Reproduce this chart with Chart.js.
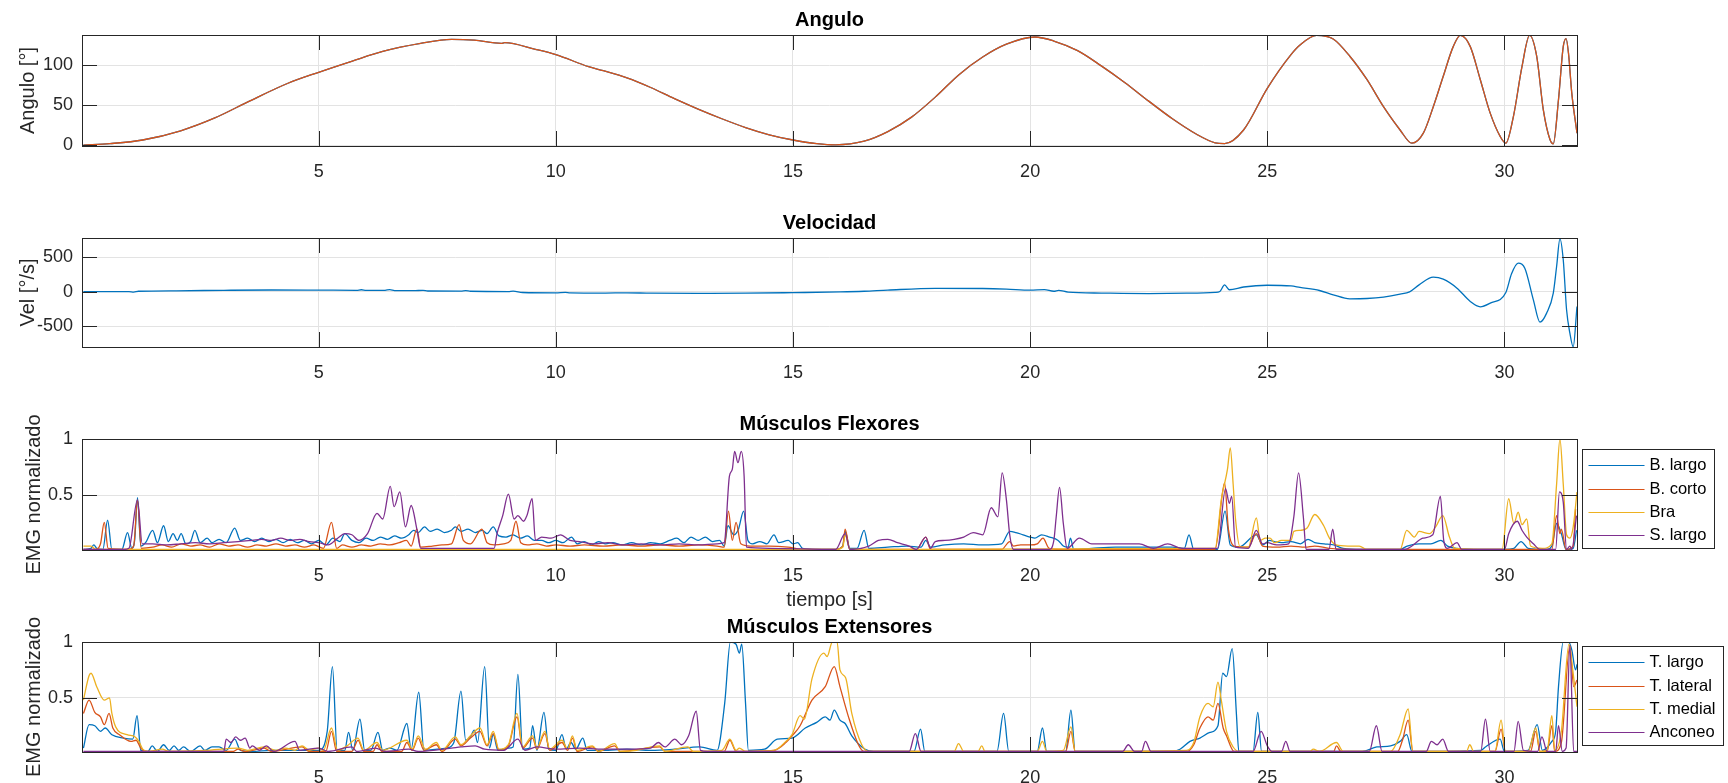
<!DOCTYPE html>
<html>
<head>
<meta charset="utf-8">
<script src="https://cdn.jsdelivr.net/npm/chart.js@4.4.1/dist/chart.umd.min.js"></script>
<style>
body{margin:0;background:#fff;width:1728px;height:783px;overflow:hidden;position:relative}
canvas{position:absolute;left:0}
</style>
</head>
<body>
<canvas id="angChart" width="1728" height="195" style="top:0px"></canvas>
<canvas id="velChart" width="1728" height="200" style="top:195px"></canvas>
<canvas id="flexChart" width="1728" height="217" style="top:395px"></canvas>
<canvas id="extChart" width="1728" height="171" style="top:612px"></canvas>
<script>
// tick positions
const timeTicks = [5, 10, 15, 20, 25, 30]
const angleTicks = [0, 50, 100]
const velTicks = [-500, 0, 500]
const emgTicks = [0.5, 1]

const flexLabels = ["B. largo", "B. corto", "Bra", "S. largo"]
const extLabels = ["T. largo", "T. lateral", "T. medial", "Anconeo"]

// [tiempo, valor]
const angleData = [[0.04,0],[0.6,2],[1.29,6.5],[2.09,18],[2.81,34],[3.54,55],[4.34,77],[5.0,91],[5.71,105],[6.35,117],[7.15,127],[7.8,132],[8.28,131],[8.85,127],[8.92,128],[9.57,119.6],[10.0,113],[10.69,98],[11.0,93],[11.5,84],[12.0,72],[12.5,58],[13.0,45],[13.5,33],[14.0,22],[14.5,13],[15.0,6.5],[15.5,2],[15.9,0.5],[16.5,5],[17.0,17],[17.5,35],[18.0,60],[18.5,88],[19.0,110],[19.5,126],[20.1,135],[20.5,130],[21.0,118],[21.5,99],[22.0,78],[22.5,55],[23.0,33],[23.5,14],[23.9,3],[24.1,2],[24.5,19],[25.0,71],[25.5,113],[25.69,125],[26.04,137],[26.39,132.5],[26.74,111],[27.1,82],[27.45,48],[27.8,19],[28.05,2.5],[28.29,15],[28.5,48],[28.71,86],[28.92,123],[29.07,137],[29.28,123],[29.49,82],[29.7,40],[29.91,11],[30.03,2.5],[30.19,36],[30.37,98],[30.53,137],[30.68,111],[30.82,44],[30.96,7],[31.03,1.7],[31.14,57],[31.24,123],[31.3,133],[31.35,115],[31.42,65],[31.53,15]]

const velData = [[0.04,2],[0.5,3],[1.0,3],[1.1,-5],[1.2,8],[2.0,15],[3.0,22],[4.0,26],[5.0,24],[5.8,22],[5.9,30],[6.0,20],[6.4,22],[6.5,32],[6.6,18],[7.0,16],[7.2,22],[7.3,12],[8.0,10],[8.1,18],[8.2,8],[9.0,4],[9.1,10],[9.3,-10],[10.0,-15],[10.2,-8],[10.3,-15],[11.0,-18],[11.5,-14],[12.0,-20],[13.0,-22],[14.0,-20],[15.0,-12],[16.0,-2],[16.5,8],[17.0,25],[18.0,50],[19.0,48],[19.5,40],[20.0,25],[20.3,32],[20.5,8],[20.6,22],[20.8,-5],[21.5,-18],[22.5,-25],[23.3,-20],[23.9,-8],[24.0,5],[24.1,100],[24.2,30],[24.5,70],[25.0,95],[25.5,85],[25.69,63],[26.1,19],[26.39,-43],[26.74,-101],[27.1,-97],[27.45,-77],[27.8,-34],[28.0,0],[28.2,101],[28.5,212],[28.71,183],[29.0,53],[29.28,-140],[29.49,-217],[29.7,-164],[30.03,-10],[30.15,261],[30.29,415],[30.43,343],[30.61,-116],[30.75,-440],[30.89,-309],[31.03,-19],[31.1,367],[31.17,768],[31.24,464],[31.31,-261],[31.38,-599],[31.45,-797],[31.53,-213]]

// flexores
const bLargo = [[0.04,0.02],[0.2,0.03],[0.26,0.06],[0.32,0.03],[0.45,0.02],[0.55,0.28],[0.64,0.02],[0.85,0.02],[0.97,0.17],[1.06,0.03],[1.12,0.1],[1.18,0.48],[1.25,0.05],[1.35,0.08],[1.5,0.19],[1.6,0.08],[1.73,0.23],[1.83,0.09],[1.93,0.16],[2.02,0.1],[2.1,0.16],[2.2,0.07],[2.3,0.09],[2.39,0.19],[2.5,0.08],[2.65,0.12],[2.75,0.08],[2.9,0.11],[3.05,0.08],[3.23,0.21],[3.35,0.1],[3.5,0.12],[3.65,0.09],[3.8,0.12],[3.95,0.09],[4.1,0.11],[4.25,0.08],[4.4,0.11],[4.55,0.08],[4.7,0.1],[4.85,0.07],[5.0,0.1],[5.15,0.06],[5.3,0.12],[5.45,0.09],[5.55,0.16],[5.7,0.1],[5.85,0.08],[6.0,0.12],[6.15,0.1],[6.3,0.13],[6.45,0.11],[6.6,0.14],[6.75,0.12],[6.9,0.15],[7.0,0.19],[7.1,0.17],[7.23,0.22],[7.35,0.18],[7.5,0.2],[7.65,0.17],[7.8,0.19],[7.88,0.22],[8.0,0.18],[8.15,0.2],[8.3,0.17],[8.45,0.19],[8.55,0.16],[8.68,0.22],[8.8,0.14],[8.95,0.13],[9.1,0.15],[9.25,0.12],[9.4,0.14],[9.55,0.1],[9.7,0.1],[9.85,0.08],[10.0,0.1],[10.15,0.08],[10.33,0.13],[10.45,0.07],[10.6,0.09],[10.75,0.06],[10.9,0.09],[11.05,0.07],[11.2,0.08],[11.4,0.06],[11.6,0.08],[11.8,0.06],[12.0,0.08],[12.2,0.07],[12.4,0.1],[12.55,0.12],[12.7,0.08],[12.85,0.13],[13.0,0.1],[13.15,0.13],[13.3,0.09],[13.45,0.1],[13.55,0.05],[13.63,0.23],[13.75,0.15],[13.85,0.2],[13.96,0.36],[14.05,0.1],[14.15,0.07],[14.3,0.09],[14.45,0.07],[14.6,0.15],[14.7,0.08],[14.9,0.1],[15.0,0.07],[15.1,0.08],[15.2,0.03],[15.5,0.02],[15.9,0.02],[16.05,0.05],[16.1,0.18],[16.2,0.03],[16.35,0.03],[16.5,0.19],[16.6,0.03],[17.0,0.04],[17.4,0.05],[17.7,0.04],[17.8,0.1],[17.9,0.04],[18.2,0.06],[18.6,0.07],[19.0,0.06],[19.4,0.07],[19.57,0.18],[19.7,0.17],[19.85,0.15],[20.0,0.13],[20.1,0.12],[20.24,0.15],[20.41,0.13],[20.59,0.1],[20.7,0.05],[20.8,0.04],[20.85,0.12],[20.92,0.02],[21.3,0.03],[21.8,0.04],[22.5,0.04],[23.0,0.04],[23.25,0.03],[23.35,0.15],[23.45,0.02],[23.95,0.02],[24.11,0.36],[24.22,0.06],[24.4,0.04],[24.77,0.15],[24.9,0.06],[25.05,0.1],[25.15,0.09],[25.3,0.08],[25.5,0.09],[25.7,0.07],[25.86,0.11],[26.0,0.08],[26.2,0.07],[26.4,0.06],[26.6,0.03],[27.0,0.02],[27.8,0.02],[27.95,0.05],[28.2,0.07],[28.45,0.07],[28.66,0.1],[28.8,0.05],[29.0,0.03],[29.5,0.02],[30.0,0.02],[30.2,0.03],[30.35,0.09],[30.5,0.03],[30.9,0.02],[31.0,0.05],[31.1,0.25],[31.2,0.16],[31.3,0.02],[31.45,0.03],[31.52,0.19]]
const bCorto = [[0.04,0.02],[0.3,0.02],[0.4,0.07],[0.48,0.26],[0.56,0.03],[1.0,0.02],[1.1,0.05],[1.18,0.46],[1.26,0.03],[1.5,0.04],[1.7,0.06],[1.9,0.04],[2.1,0.07],[2.3,0.05],[2.5,0.06],[2.7,0.04],[2.9,0.07],[3.1,0.05],[3.3,0.06],[3.5,0.04],[3.7,0.06],[3.9,0.05],[4.1,0.07],[4.3,0.05],[4.5,0.06],[4.7,0.04],[4.9,0.06],[5.1,0.03],[5.27,0.26],[5.38,0.03],[5.5,0.06],[5.7,0.04],[5.9,0.06],[6.1,0.05],[6.3,0.07],[6.5,0.06],[6.7,0.08],[6.85,0.1],[6.95,0.05],[7.07,0.2],[7.15,0.04],[7.4,0.05],[7.6,0.06],[7.8,0.07],[7.96,0.24],[8.05,0.1],[8.2,0.07],[8.44,0.2],[8.55,0.08],[8.7,0.06],[8.9,0.07],[9.05,0.1],[9.16,0.27],[9.26,0.08],[9.4,0.06],[9.6,0.07],[9.8,0.05],[10.0,0.06],[10.3,0.05],[10.6,0.06],[11.0,0.05],[11.4,0.06],[11.8,0.05],[12.2,0.06],[12.6,0.05],[13.0,0.06],[13.4,0.05],[13.55,0.04],[13.64,0.36],[13.72,0.1],[13.8,0.26],[13.9,0.07],[14.1,0.05],[14.5,0.05],[14.9,0.04],[15.2,0.02],[15.9,0.02],[16.05,0.05],[16.1,0.2],[16.2,0.02],[17.6,0.02],[17.8,0.13],[17.9,0.02],[19.4,0.02],[19.57,0.09],[19.65,0.05],[19.8,0.06],[20.0,0.06],[20.15,0.07],[20.27,0.12],[20.4,0.03],[20.6,0.02],[23.9,0.02],[24.1,0.61],[24.18,0.2],[24.3,0.05],[24.6,0.04],[24.77,0.16],[24.9,0.05],[25.2,0.04],[25.5,0.05],[25.8,0.04],[26.0,0.05],[26.3,0.03],[27.0,0.02],[28.8,0.02],[29.5,0.02],[31.0,0.02],[31.1,0.32],[31.17,0.16],[31.2,0.2],[31.3,0.02],[31.45,0.05],[31.5,0.38]]
const bra = [[0.04,0.05],[0.2,0.05],[0.3,0.02],[15.9,0.02],[16.05,0.04],[16.1,0.15],[16.2,0.02],[23.9,0.03],[24.03,0.46],[24.16,0.73],[24.22,0.92],[24.28,0.6],[24.33,0.29],[24.43,0.04],[24.6,0.04],[24.77,0.3],[24.85,0.1],[24.96,0.12],[25.06,0.12],[25.15,0.08],[25.3,0.1],[25.5,0.1],[25.56,0.18],[25.7,0.19],[25.84,0.21],[26.0,0.33],[26.19,0.23],[26.31,0.12],[26.45,0.06],[26.7,0.05],[26.94,0.05],[27.1,0.02],[27.8,0.02],[27.94,0.19],[28.1,0.13],[28.2,0.18],[28.42,0.16],[28.55,0.22],[28.7,0.32],[28.84,0.13],[28.95,0.03],[29.95,0.02],[30.09,0.47],[30.2,0.25],[30.29,0.35],[30.37,0.24],[30.47,0.29],[30.55,0.05],[30.8,0.03],[31.0,0.07],[31.1,0.6],[31.17,1.0],[31.24,0.6],[31.31,0.15],[31.38,0.12],[31.45,0.22],[31.53,0.53]]
const sLargo = [[0.04,0.02],[0.9,0.02],[1.0,0.03],[1.18,0.46],[1.28,0.07],[1.5,0.07],[1.8,0.06],[2.1,0.07],[2.4,0.08],[2.7,0.07],[3.0,0.08],[3.3,0.09],[3.6,0.1],[3.8,0.11],[4.0,0.1],[4.2,0.12],[4.4,0.1],[4.6,0.11],[4.8,0.09],[5.0,0.08],[5.2,0.06],[5.4,0.12],[5.55,0.16],[5.7,0.15],[5.85,0.1],[6.03,0.16],[6.23,0.34],[6.35,0.29],[6.51,0.58],[6.59,0.4],[6.71,0.53],[6.83,0.22],[6.95,0.41],[7.07,0.2],[7.15,0.03],[8.7,0.03],[8.76,0.16],[8.88,0.32],[9.0,0.51],[9.12,0.29],[9.2,0.32],[9.32,0.27],[9.39,0.32],[9.5,0.47],[9.57,0.1],[9.7,0.13],[9.9,0.12],[10.1,0.15],[10.3,0.1],[10.5,0.09],[10.8,0.07],[11.1,0.08],[11.4,0.06],[11.8,0.07],[12.2,0.06],[12.6,0.07],[13.0,0.06],[13.4,0.07],[13.55,0.08],[13.66,0.67],[13.72,0.73],[13.77,0.89],[13.84,0.79],[13.91,0.89],[13.97,0.67],[14.02,0.04],[14.5,0.03],[15.9,0.02],[16.1,0.16],[16.2,0.02],[16.6,0.05],[16.8,0.1],[17.0,0.11],[17.2,0.08],[17.45,0.05],[17.6,0.02],[17.8,0.13],[17.9,0.03],[18.0,0.09],[18.2,0.1],[18.4,0.11],[18.6,0.13],[18.8,0.17],[19.0,0.15],[19.18,0.39],[19.32,0.31],[19.41,0.7],[19.5,0.46],[19.57,0.15],[19.65,0.02],[20.4,0.02],[20.5,0.1],[20.55,0.31],[20.62,0.57],[20.7,0.25],[20.78,0.03],[21.04,0.12],[21.3,0.07],[21.8,0.07],[22.3,0.07],[22.6,0.03],[22.9,0.07],[23.2,0.03],[23.95,0.03],[24.12,0.56],[24.2,0.43],[24.25,0.49],[24.33,0.04],[24.6,0.03],[24.77,0.19],[24.9,0.07],[25.0,0.08],[25.2,0.06],[25.45,0.07],[25.56,0.31],[25.66,0.7],[25.76,0.31],[25.82,0.02],[26.3,0.02],[26.38,0.2],[26.45,0.02],[27.9,0.02],[28.05,0.05],[28.28,0.12],[28.49,0.15],[28.65,0.49],[28.72,0.1],[28.8,0.03],[29.0,0.08],[29.1,0.02],[30.0,0.02],[30.09,0.16],[30.27,0.27],[30.37,0.19],[30.47,0.13],[30.61,0.07],[30.75,0.02],[31.08,0.02],[31.16,0.53],[31.24,0.44],[31.31,0.02],[31.38,0.05],[31.42,0.02],[31.52,0.32]]

// extensores
const tLargo = [[0.04,0.05],[0.16,0.26],[0.28,0.25],[0.4,0.2],[0.5,0.23],[0.64,0.17],[0.88,0.14],[1.08,0.13],[1.17,0.34],[1.25,0.03],[1.4,0.02],[1.49,0.07],[1.6,0.02],[1.73,0.08],[1.85,0.03],[1.95,0.07],[2.05,0.03],[2.15,0.06],[2.3,0.02],[2.5,0.07],[2.6,0.03],[2.75,0.06],[2.9,0.06],[3.05,0.03],[3.23,0.13],[3.35,0.03],[3.6,0.02],[4.0,0.03],[4.5,0.03],[5.0,0.03],[5.18,0.2],[5.29,0.78],[5.39,0.03],[5.55,0.03],[5.63,0.19],[5.72,0.03],[5.87,0.31],[5.97,0.03],[6.1,0.03],[6.25,0.19],[6.35,0.03],[6.5,0.05],[6.65,0.03],[6.86,0.27],[6.95,0.04],[7.11,0.55],[7.22,0.03],[7.5,0.04],[7.7,0.05],[7.85,0.1],[8.0,0.56],[8.1,0.12],[8.2,0.15],[8.28,0.21],[8.35,0.1],[8.5,0.78],[8.6,0.05],[8.68,0.17],[8.78,0.03],[9.0,0.05],[9.1,0.06],[9.2,0.71],[9.3,0.04],[9.45,0.05],[9.51,0.25],[9.6,0.03],[9.75,0.37],[9.85,0.04],[10.0,0.03],[10.13,0.17],[10.22,0.04],[10.32,0.1],[10.42,0.04],[10.57,0.14],[10.66,0.03],[11.0,0.03],[11.5,0.04],[12.0,0.03],[12.5,0.04],[13.03,0.06],[13.4,0.03],[13.56,0.45],[13.68,1.0],[13.8,0.98],[13.87,0.9],[13.92,0.98],[14.0,0.45],[14.06,0.03],[14.4,0.04],[14.67,0.13],[14.98,0.14],[15.26,0.23],[15.5,0.28],[15.68,0.33],[15.78,0.3],[15.87,0.39],[15.99,0.3],[16.1,0.27],[16.24,0.16],[16.52,0.04],[16.7,0.02],[17.55,0.02],[17.69,0.22],[17.78,0.02],[19.3,0.02],[19.44,0.36],[19.55,0.02],[20.15,0.02],[20.26,0.23],[20.35,0.02],[20.75,0.02],[20.86,0.39],[20.95,0.02],[23.0,0.02],[23.16,0.04],[23.37,0.11],[23.58,0.14],[23.79,0.19],[23.96,0.25],[24.06,0.72],[24.14,0.69],[24.26,0.94],[24.35,0.35],[24.4,0.02],[24.7,0.02],[24.8,0.37],[24.88,0.02],[27.0,0.02],[27.31,0.06],[27.6,0.07],[27.8,0.11],[27.94,0.17],[28.05,0.02],[29.5,0.03],[29.6,0.06],[29.91,0.13],[30.0,0.02],[30.5,0.03],[30.69,0.26],[30.8,0.03],[31.0,0.11],[31.08,0.2],[31.14,0.6],[31.24,1.0],[31.35,1.0],[31.42,0.93],[31.5,0.75],[31.53,0.8]]
const tLateral = [[0.04,0.36],[0.16,0.48],[0.28,0.37],[0.4,0.33],[0.48,0.26],[0.58,0.36],[0.66,0.23],[0.8,0.17],[1.04,0.11],[1.15,0.12],[1.25,0.05],[1.35,0.02],[3.2,0.02],[3.3,0.04],[3.45,0.02],[3.85,0.05],[4.0,0.02],[4.65,0.06],[4.8,0.02],[5.15,0.02],[5.27,0.2],[5.38,0.02],[5.7,0.02],[5.83,0.12],[5.95,0.02],[6.15,0.02],[6.23,0.08],[6.33,0.02],[6.75,0.02],[6.86,0.1],[6.97,0.03],[7.1,0.14],[7.22,0.03],[7.48,0.08],[7.6,0.02],[7.88,0.13],[8.0,0.07],[8.2,0.14],[8.4,0.2],[8.55,0.07],[8.68,0.18],[8.8,0.03],[9.0,0.07],[9.18,0.33],[9.3,0.05],[9.51,0.14],[9.6,0.04],[9.77,0.18],[9.87,0.03],[10.13,0.1],[10.25,0.03],[10.35,0.14],[10.45,0.02],[10.77,0.06],[10.9,0.02],[11.24,0.07],[11.35,0.02],[12.19,0.06],[12.3,0.02],[13.55,0.02],[13.67,0.12],[13.8,0.02],[14.6,0.03],[14.85,0.1],[14.98,0.16],[15.15,0.25],[15.4,0.48],[15.68,0.6],[15.87,0.78],[15.99,0.6],[16.17,0.33],[16.38,0.08],[16.5,0.02],[20.75,0.02],[20.86,0.2],[20.95,0.02],[23.3,0.02],[23.45,0.08],[23.58,0.23],[23.75,0.33],[23.86,0.3],[23.96,0.45],[24.07,0.23],[24.14,0.16],[24.3,0.02],[26.4,0.02],[26.46,0.07],[26.55,0.02],[27.75,0.02],[27.85,0.12],[27.97,0.3],[28.07,0.02],[29.8,0.02],[29.93,0.22],[30.02,0.02],[30.55,0.02],[30.66,0.2],[30.75,0.02],[30.9,0.02],[31.0,0.25],[31.06,0.02],[31.2,0.1],[31.38,0.97],[31.46,0.6],[31.53,0.66]]
const tMedial = [[0.04,0.48],[0.16,0.7],[0.2,0.72],[0.32,0.6],[0.48,0.48],[0.59,0.5],[0.64,0.36],[0.72,0.24],[0.96,0.17],[1.13,0.15],[1.21,0.11],[1.29,0.04],[1.4,0.02],[1.7,0.04],[1.85,0.02],[2.6,0.03],[3.3,0.05],[3.5,0.03],[3.85,0.06],[4.1,0.03],[4.3,0.05],[4.5,0.03],[4.65,0.07],[4.8,0.03],[5.0,0.05],[5.1,0.03],[5.27,0.23],[5.4,0.03],[5.6,0.07],[5.83,0.14],[5.95,0.03],[6.23,0.1],[6.35,0.03],[6.86,0.12],[6.97,0.04],[7.1,0.16],[7.25,0.04],[7.48,0.1],[7.6,0.03],[7.88,0.15],[8.0,0.08],[8.2,0.16],[8.4,0.23],[8.55,0.08],[8.68,0.2],[8.8,0.04],[9.0,0.08],[9.18,0.36],[9.3,0.06],[9.51,0.16],[9.6,0.05],[9.77,0.2],[9.87,0.04],[10.13,0.12],[10.25,0.04],[10.35,0.16],[10.45,0.03],[10.77,0.07],[10.9,0.02],[11.24,0.09],[11.35,0.02],[11.7,0.03],[12.19,0.07],[12.3,0.02],[12.78,0.06],[12.9,0.02],[13.5,0.03],[13.67,0.13],[13.8,0.03],[13.87,0.05],[14.0,0.02],[14.6,0.03],[14.85,0.11],[14.98,0.17],[15.15,0.34],[15.24,0.31],[15.4,0.67],[15.65,0.9],[15.72,0.87],[15.83,1.0],[15.93,1.0],[15.99,0.75],[16.11,0.68],[16.24,0.36],[16.45,0.08],[16.6,0.02],[18.4,0.02],[18.49,0.09],[18.6,0.02],[18.9,0.02],[18.98,0.07],[19.05,0.02],[20.15,0.02],[20.26,0.11],[20.35,0.02],[20.7,0.03],[20.86,0.24],[20.95,0.02],[23.3,0.03],[23.45,0.1],[23.58,0.33],[23.75,0.45],[23.86,0.42],[23.96,0.64],[24.03,0.48],[24.14,0.2],[24.28,0.06],[24.4,0.02],[25.9,0.02],[25.97,0.04],[26.1,0.02],[26.46,0.1],[26.6,0.02],[27.6,0.02],[27.8,0.17],[27.97,0.4],[28.07,0.02],[29.2,0.02],[29.27,0.08],[29.35,0.02],[29.8,0.02],[29.93,0.3],[30.02,0.02],[30.5,0.02],[30.66,0.23],[30.75,0.02],[30.9,0.03],[31.0,0.34],[31.06,0.03],[31.2,0.2],[31.36,0.98],[31.44,0.75],[31.53,0.42]]
const anconeo = [[0.04,0.02],[3.0,0.02],[3.05,0.13],[3.15,0.1],[3.25,0.15],[3.35,0.12],[3.45,0.14],[3.55,0.05],[3.6,0.07],[3.75,0.03],[3.9,0.07],[4.05,0.02],[4.5,0.11],[4.6,0.03],[5.0,0.05],[5.2,0.02],[5.7,0.06],[5.8,0.02],[6.2,0.05],[6.4,0.02],[6.9,0.04],[7.1,0.02],[7.8,0.05],[8.0,0.06],[8.3,0.07],[8.5,0.04],[8.9,0.03],[9.2,0.13],[9.35,0.03],[9.6,0.06],[10.0,0.04],[10.5,0.05],[11.0,0.04],[11.5,0.04],[12.0,0.05],[12.16,0.1],[12.3,0.06],[12.51,0.13],[12.65,0.08],[12.8,0.16],[12.96,0.38],[13.05,0.03],[13.2,0.02],[17.45,0.02],[17.58,0.18],[17.7,0.02],[21.95,0.02],[22.07,0.08],[22.2,0.02],[22.35,0.02],[22.43,0.11],[22.55,0.02],[24.7,0.02],[24.87,0.2],[25.0,0.07],[25.1,0.02],[25.3,0.02],[25.39,0.11],[25.48,0.02],[27.15,0.02],[27.3,0.25],[27.42,0.02],[28.35,0.02],[28.46,0.11],[28.58,0.08],[28.7,0.13],[28.82,0.02],[29.5,0.02],[29.6,0.31],[29.7,0.02],[30.2,0.02],[30.29,0.29],[30.4,0.03],[30.7,0.02],[30.79,0.15],[30.9,0.02],[31.08,0.02],[31.14,0.25],[31.22,0.02],[31.3,0.05],[31.38,0.97],[31.46,0.02],[31.53,0.02]]

const colors = ["#0072BD", "#D95319", "#EDB120", "#7E2F8E"]
const FONT = '"Liberation Sans", Arial, Helvetica, sans-serif'
const INK = "#262626"

Chart.defaults.font.family = FONT
Chart.defaults.color = INK

// box, inward ticks and legend drawn on top like a MATLAB axes
const matlabAxes = {
id: "matlabAxes",
afterDraw(chart, args, opts){
const {ctx, chartArea: a, scales: {x, y}} = chart
const tl = 15
ctx.save()
ctx.strokeStyle = INK
ctx.lineWidth = 1
ctx.beginPath()
x.ticks.forEach(t => {
const px = Math.round(x.getPixelForValue(t.value)) + 0.5
ctx.moveTo(px, a.bottom); ctx.lineTo(px, a.bottom - tl)
ctx.moveTo(px, a.top); ctx.lineTo(px, a.top + tl)
})
y.ticks.forEach(t => {
const py = Math.round(y.getPixelForValue(t.value)) + 0.5
ctx.moveTo(a.left, py); ctx.lineTo(a.left + tl, py)
ctx.moveTo(a.right, py); ctx.lineTo(a.right - tl, py)
})
ctx.stroke()
ctx.strokeRect(Math.round(a.left) + 0.5, Math.round(a.top) + 0.5, Math.round(a.right - a.left), Math.round(a.bottom - a.top))

if(opts.legend){
const sets = chart.data.datasets
ctx.font = "16.5px " + FONT
const textW = Math.max(...sets.map(d => ctx.measureText(d.label).width))
const left = Math.round(a.right) + 5.5
const top = Math.round(a.top) + opts.legendTop + 0.5
const rowH = 23.3
const w = Math.round(67 + textW + 8)
const h = Math.round(rowH * sets.length + 6)
ctx.fillStyle = "#fff"
ctx.fillRect(left, top, w, h)
ctx.strokeStyle = INK
ctx.strokeRect(left, top, w, h)
ctx.textBaseline = "middle"
sets.forEach((d, i) => {
const cy = Math.round(top + 15.7 + i * rowH) + 0.5
ctx.strokeStyle = d.borderColor
ctx.lineWidth = 1.2
ctx.beginPath()
ctx.moveTo(left + 6, cy); ctx.lineTo(left + 62, cy)
ctx.stroke()
ctx.fillStyle = "#000"
ctx.fillText(d.label, left + 67, cy)
})
}
ctx.restore()
}
}

function series(label, pts, color, order){
return {
label: label,
data: pts.map(p => ({x: p[0], y: p[1]})),
borderColor: color,
borderWidth: 1.3,
pointRadius: 0,
cubicInterpolationMode: "monotone",
fill: false,
order: order
}
}

function makePanel(id, cfg){
return new Chart(document.getElementById(id), {
type: "line",
data: {datasets: cfg.datasets},
options: {
responsive: false,
animation: false,
events: [],
layout: {padding: {left: 0, right: 151, top: 0, bottom: 0}},
plugins: {
legend: {display: false},
tooltip: {enabled: false},
title: {
display: true,
text: cfg.title,
fullSize: false,
color: "#000",
font: {size: 20, weight: "bold"},
padding: {top: cfg.titleTop, bottom: 3}
},
matlabAxes: {legend: !!cfg.legend, legendTop: cfg.legendTop || 0}
},
scales: {
x: {
type: "linear",
min: 0.01,
max: 31.53,
afterBuildTicks: s => { s.ticks = timeTicks.map(v => ({value: v})) },
afterFit: s => { s.height = cfg.xHeight },
ticks: {font: {size: 18}, color: INK, padding: 15, autoSkip: false, maxRotation: 0, callback: v => String(v)},
grid: {color: "#e3e3e3", drawTicks: false},
border: {display: false},
title: cfg.xTitle ? {display: true, text: cfg.xTitle, color: INK, font: {size: 20}, padding: {top: 0, bottom: 0}} : {display: false}
},
y: {
min: cfg.yMin,
max: cfg.yMax,
afterBuildTicks: s => { s.ticks = cfg.yTicks.map(v => ({value: v})) },
afterFit: s => { s.width = 82 },
ticks: {font: {size: 18}, color: INK, padding: 9, callback: v => String(v)},
grid: {color: "#e3e3e3", drawTicks: false},
border: {display: false},
title: {display: true, text: cfg.yTitle, color: INK, font: {size: 20}, padding: {top: cfg.yTitlePad, bottom: 0}}
}
}
},
plugins: [matlabAxes]
})
}

makePanel("angChart", {
title: "Angulo", titleTop: 8, xHeight: 49,
yMin: -1, yMax: 137.5, yTicks: angleTicks, yTitle: "Angulo [°]", yTitlePad: 16,
datasets: [series("Angulo", angleData, colors[0], 1), series("Angulo", angleData, colors[1], 0)]
})

makePanel("velChart", {
title: "Velocidad", titleTop: 16, xHeight: 48,
yMin: -800, yMax: 780, yTicks: velTicks, yTitle: "Vel [°/s]", yTitlePad: 16,
datasets: [series("Vel", velData, colors[0], 0)]
})

makePanel("flexChart", {
title: "Músculos Flexores", titleTop: 17, xHeight: 62, xTitle: "tiempo [s]",
yMin: 0.015, yMax: 1, yTicks: emgTicks, yTitle: "EMG normalizado", yTitlePad: 22,
legend: true, legendTop: 10,
datasets: [bLargo, bCorto, bra, sLargo].map((d, i) => series(flexLabels[i], d, colors[i], 3 - i))
})

makePanel("extChart", {
title: "Músculos Extensores", titleTop: 3, xHeight: 31,
yMin: 0.015, yMax: 1, yTicks: emgTicks, yTitle: "EMG normalizado", yTitlePad: 22,
legend: true, legendTop: 4,
datasets: [tLargo, tLateral, tMedial, anconeo].map((d, i) => series(extLabels[i], d, colors[i], 3 - i))
})
</script>
</body>
</html>
